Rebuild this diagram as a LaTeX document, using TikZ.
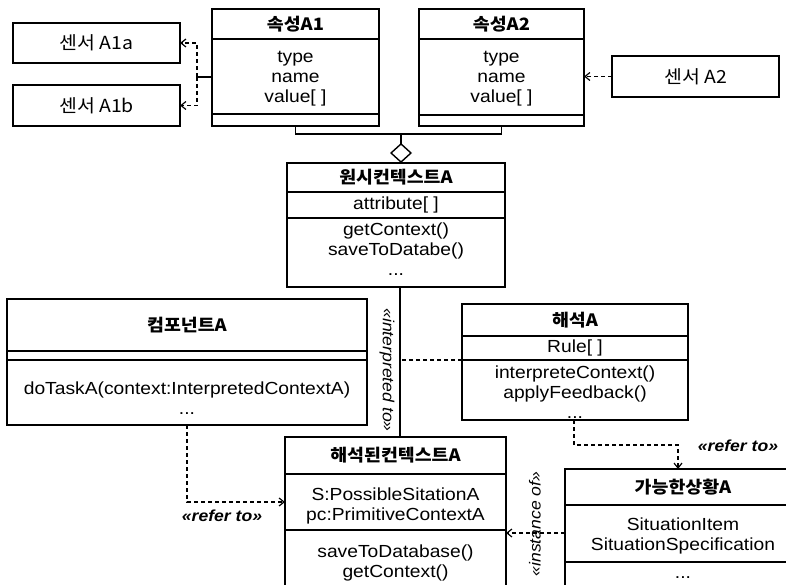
\documentclass[tikz,border=0pt]{standalone}
\usepackage{fontspec}
\setmainfont{Liberation Sans}[FakeStretch=1.1]
\newfontfamily\kr{Noto Sans CJK KR}[FakeStretch=1.08]
\usetikzlibrary{arrows.meta}

\tikzset{
  frame/.style={draw, line width=1.4pt, inner sep=0pt, outer sep=0pt, anchor=north west},
  sep/.style={line width=1.4pt},
  txt/.style={inner sep=0pt, align=center, font=\fontsize{17.5}{20}\selectfont},
  hd/.style={inner sep=0pt, font=\kr\bfseries\fontsize{17}{20}\selectfont},
  krtxt/.style={inner sep=0pt, font=\kr\fontsize{18}{20}\selectfont},
  dline/.style={line width=1.2pt, dash pattern=on 4pt off 3pt},
  dep/.style={dline, -{Straight Barb[length=5pt,width=8pt]}},
  stereo/.style={inner sep=0pt, font=\itshape\fontsize{16}{18}\selectfont},
  stereob/.style={inner sep=0pt, font=\bfseries\itshape\fontsize{16}{18}\selectfont},
}

\begin{document}
\begin{tikzpicture}[x=1pt, y=-1pt]
\useasboundingbox (0,0) rectangle (786,585);
\clip (0,0) rectangle (786,585);

% sensors
\node[frame, minimum width=167pt, minimum height=40pt] (S1a) at (13,23) {};
\node[krtxt] at (S1a.center) {센서 A1a};
\node[frame, minimum width=167pt, minimum height=41pt] (S1b) at (13,85) {};
\node[krtxt] at (S1b.center) {센서 A1b};
\node[frame, minimum width=167pt, minimum height=41pt] (S2) at (612,56) {};
\node[krtxt] at (S2.center) {센서 A2};

% attribute A1
\node[frame, minimum width=167pt, minimum height=117pt] (A1) at (212,9) {};
\draw[sep] (A1.west |- 0,39) -- (A1.east |- 0,39);
\draw[sep] (A1.west |- 0,114) -- (A1.east |- 0,114);
\node[hd] (A1h) at (A1.center |- 0,24) {속성A1};
\node[txt] (A1a) at (A1.center |- 0,79) {type\\name\\value[ ]};

% attribute A2
\node[frame, minimum width=165pt, minimum height=117pt] (A2) at (419,9) {};
\draw[sep] (A2.west |- 0,39) -- (A2.east |- 0,39);
\draw[sep] (A2.west |- 0,115) -- (A2.east |- 0,115);
\node[hd] (A2h) at (A2.center |- 0,24) {속성A2};
\node[txt] (A2a) at (A2.center |- 0,79) {type\\name\\value[ ]};

% primitive context
\node[frame, minimum width=218pt, minimum height=124pt] (P) at (287,163) {};
\draw[sep] (P.west |- 0,192) -- (P.east |- 0,192);
\draw[sep] (P.west |- 0,218) -- (P.east |- 0,218);
\node[hd] (Ph) at (P.center |- 0,177.5) {원시컨텍스트A};
\node[txt] (Pa) at (P.center |- 0,205) {attribute[ ]};
\node[txt] (Pm) at (P.center |- 0,249) {getContext()\\saveToDatabe()\\...};

% component
\node[frame, minimum width=360pt, minimum height=126pt] (C) at (7,299) {};
\draw[sep] (C.west |- 0,351) -- (C.east |- 0,351);
\draw[sep] (C.west |- 0,360) -- (C.east |- 0,360);
\node[hd] (Ch) at (C.center |- 0,325) {컴포넌트A};
\node[txt] (Cm) at (C.center |- 0,398) {doTaskA(context:InterpretedContextA)\\...};

% interpretation
\node[frame, minimum width=226pt, minimum height=116pt] (I) at (462,304) {};
\draw[sep] (I.west |- 0,336) -- (I.east |- 0,336);
\draw[sep] (I.west |- 0,360) -- (I.east |- 0,360);
\node[hd] (Ih) at (I.center |- 0,320) {해석A};
\node[txt] (Ia) at (I.center |- 0,348) {Rule[ ]};
\node[txt] (Im) at (I.center |- 0,392) {interpreteContext()\\applyFeedback()\\...};

% interpreted context
\node[frame, minimum width=221pt, minimum height=170pt] (IC) at (285,437) {};
\draw[sep] (IC.west |- 0,474) -- (IC.east |- 0,474);
\draw[sep] (IC.west |- 0,530) -- (IC.east |- 0,530);
\node[hd] (ICh) at (IC.center |- 0,455.5) {해석된컨텍스트A};
\node[txt] (ICa) at (IC.center |- 0,506) {S:PossibleSitationA\\pc:PrimitiveContextA};
\node[txt] (ICm) at (IC.center |- 0,563) {saveToDatabase()\\getContext()};

% possible situation
\node[frame, minimum width=236pt, minimum height=140pt] (S) at (565,469) {};
\draw[sep] (S.west |- 0,505) -- (S.east |- 0,505);
\draw[sep] (S.west |- 0,562) -- (S.east |- 0,562);
\node[hd] (Sh) at (683,487) {가능한상황A};
\node[txt] (Sa) at (683,536) {SituationItem\\SituationSpecification};
\node[txt, anchor=base] (Sm) at (683,578) {...};

% sensor links
\draw[line width=1.2pt] (A1.west |- 0,77) -- ++(-15,0) coordinate (fork);
\draw[dep] (fork) |- (S1a.east);
\draw[dep] (fork) |- (S1b.east);
\draw[dep] (S2.west) -- (A2.east |- S2.west);

% aggregation
\coordinate (agg) at (401,134);
\draw[sep] (A1.south) -- ++(0,8) -| (A2.south);
\draw[sep, -{Diamond[open, length=20pt, width=22pt]}] (agg) -- (P.north -| agg);

% interpreted to
\coordinate (vx) at (400,0);
\draw[sep] (P.south -| vx) -- coordinate[pos=0.49] (mid) (IC.north -| vx);
\draw[dline] (I.west |- 0,360) -- (mid |- 0,360);
\node[stereo, rotate=-90] (lint) at (387,370) {«interpreted to»};

% refer to links
\draw[dep] (C.south -| 187,0) |- (IC.west |- 0,502);
\node[stereob] (lref1) at (222,516) {«refer to»};
\draw[dep] (I.south -| 574,0) -- (574,445) -| (S.north -| 678,0);
\node[stereob] (lref2) at (738,446) {«refer to»};

% instance of
\draw[dep] (S.west |- 0,533) -- (IC.east |- 0,533);
\node[stereo, rotate=90] (linst) at (535,524) {«instance of»};
\end{tikzpicture}
\end{document}
